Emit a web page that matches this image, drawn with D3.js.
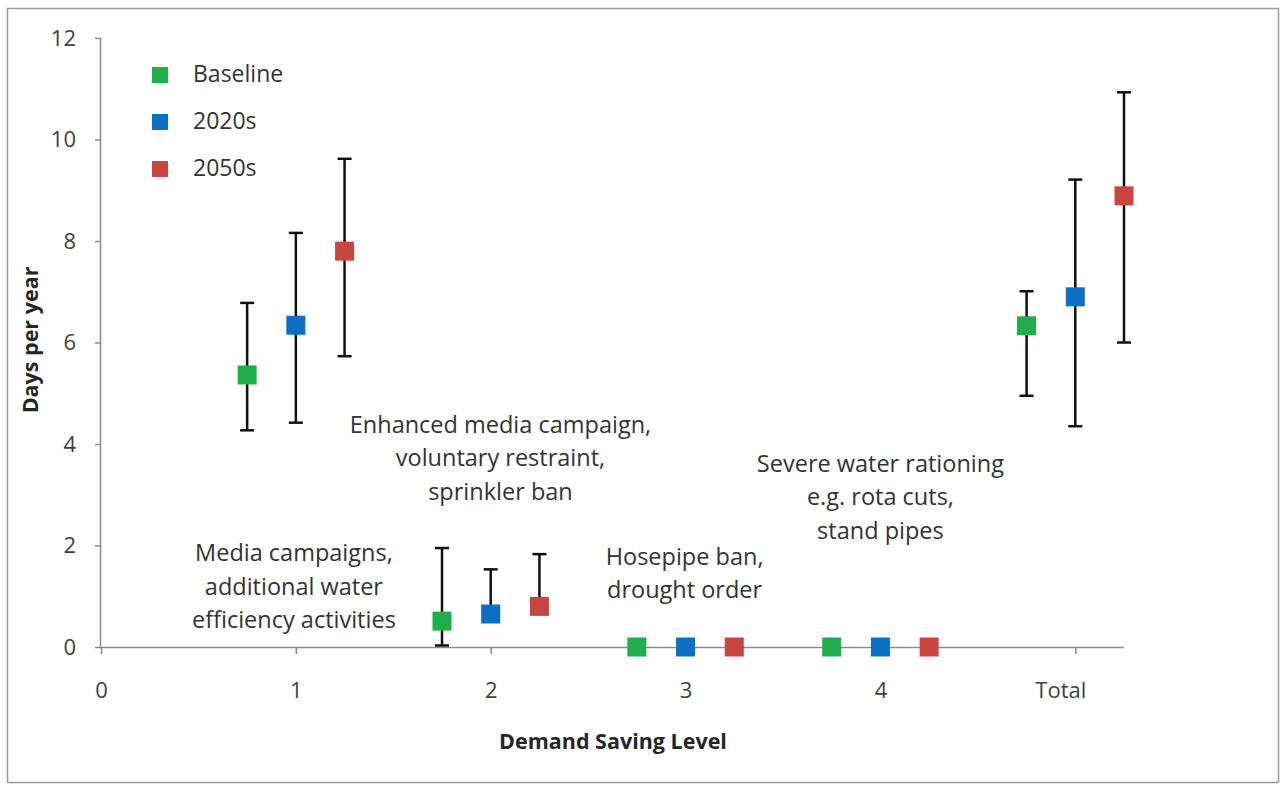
<!DOCTYPE html>
<html><head><meta charset="utf-8">
<script src="https://cdn.jsdelivr.net/npm/d3@7"></script>
<style>body{margin:0;background:#fff;} svg{display:block;} text{font-family:"Open Sans",sans-serif;}</style>
</head><body>
<svg id="chart" width="1282" height="785"></svg>
<script>
// ---- data ----
const seriesNames = ["Baseline", "2020s", "2050s"];
const seriesColors = ["#1fae4b", "#0b6fc4", "#c8463f"];
const levels = [1, 2, 3, 4, 5];            // 5 = "Total"
const xTickValues = [0, 1, 2, 3, 4, 5];
const xTickLabels = ["0", "1", "2", "3", "4", "Total"];
const yTickValues = [0, 2, 4, 6, 8, 10, 12];
const offsets = [-0.25, 0, 0.25];
const baselineVals = [5.36, 0.51, 0, 0, 6.33];
const baselineHigh = [6.78, 1.95, 0, 0, 7.01];
const baselineLow  = [4.27, 0.03, 0, 0, 4.95];
const s2020Vals = [6.34, 0.65, 0, 0, 6.90];
const s2020High = [8.16, 1.53, 0, 0, 9.21];
const s2020Low  = [4.42, 0.60, 0, 0, 4.35];
const s2050Vals = [7.80, 0.80, 0, 0, 8.89];
const s2050High = [9.62, 1.83, 0, 0, 10.93];
const s2050Low  = [5.73, 0.75, 0, 0, 6.00];
const annotations = [
  {x: 0.99, y: 1.69, lines: ["Media campaigns,", "additional water", "efficiency activities"]},
  {x: 2.05, y: 4.22, lines: ["Enhanced media campaign,", "voluntary restraint,", "sprinkler ban"]},
  {x: 2.995, y: 1.62, lines: ["Hosepipe ban,", "drought order"]},
  {x: 4.0, y: 3.45, lines: ["Severe water rationing", "e.g. rota cuts,", "stand pipes"]}
];

const allVals = [baselineVals, s2020Vals, s2050Vals];
const allHigh = [baselineHigh, s2020High, s2050High];
const allLow = [baselineLow, s2020Low, s2050Low];

const svg = d3.select("#chart");
// outer frame
svg.append("rect").attr("x", 7.5).attr("y", 8.5).attr("width", 1271).attr("height", 774)
  .attr("fill", "#fff").attr("stroke", "#9a9a9a").attr("stroke-width", 1.5);

const x = d3.scaleLinear().domain([0, 5.25]).range([101, 1124]);
const y = d3.scaleLinear().domain([0, 12]).range([647, 38]);
const axisColor = "#8a8a8a", textColor = "#404040";

// y axis
const yAxis = svg.append("g").attr("transform", `translate(${x(0)},0)`)
  .call(d3.axisLeft(y).tickValues(yTickValues).tickSize(6).tickPadding(19).tickFormat(d3.format("d")));
// x axis
const xAxis = svg.append("g").attr("transform", `translate(0,${y(0)})`)
  .call(d3.axisBottom(x).tickValues(xTickValues).tickSize(7).tickPadding(28).tickFormat((d, i) => xTickLabels[i]));
[yAxis, xAxis].forEach(g => {
  g.select(".domain").attr("stroke", axisColor).attr("stroke-width", 1.5);
  g.selectAll(".tick line").attr("stroke", axisColor).attr("stroke-width", 1.5);
  g.selectAll(".tick text").attr("fill", textColor).style("font-size", "22px").style("font-family", "Open Sans");
});
xAxis.select(".domain").attr("d", `M${x(0)},0.5H${x(5.25)}`);
yAxis.select(".domain").attr("d", `M-0.5,${y(12)}V${y(0)}`);
xAxis.selectAll(".tick text").filter(d => d === 5).attr("dx", -15);

// axis titles
svg.append("text").attr("x", 613).attr("y", 749).attr("text-anchor", "middle")
  .attr("fill", "#262626").style("font-weight", "bold").style("font-size", "21.5px").text("Demand Saving Level");
svg.append("text").attr("transform", `translate(38,${y(6.05)}) rotate(-90)`).attr("text-anchor", "middle")
  .attr("fill", "#262626").style("font-weight", "bold").style("font-size", "21.5px").text("Days per year");

// annotations
annotations.forEach(a => {
  const t = svg.append("text").attr("text-anchor", "middle").attr("fill", "#333").style("font-size", "23.5px");
  a.lines.forEach((l, i) => {
    t.append("tspan").attr("x", x(a.x)).attr("y", y(a.y) + i * 33.5).text(l);
  });
});

// error bars and markers
const capW = 7, ms = 19;
seriesNames.forEach((name, s) => {
  const g = svg.append("g");
  levels.forEach((lv, i) => {
    const cx = x(lv + offsets[s]);
    const hi = allHigh[s][i], lo = allLow[s][i];
    if (hi !== lo) {
      g.append("line").attr("x1", cx).attr("x2", cx).attr("y1", y(hi)).attr("y2", y(lo))
        .attr("stroke", "#111").attr("stroke-width", 2.5);
      [hi, lo].forEach(v => {
        g.append("line").attr("x1", cx - capW).attr("x2", cx + capW).attr("y1", y(v)).attr("y2", y(v))
          .attr("stroke", "#111").attr("stroke-width", 2.5);
      });
    }
  });
  levels.forEach((lv, i) => {
    const cx = x(lv + offsets[s]), cy = y(allVals[s][i]);
    g.append("rect").attr("x", cx - ms / 2).attr("y", cy - ms / 2).attr("width", ms).attr("height", ms)
      .attr("fill", seriesColors[s]);
  });
});

// legend
const legend = svg.append("g");
seriesNames.forEach((name, s) => {
  const cy = 75 + s * 47;
  legend.append("rect").attr("x", 152).attr("y", cy - 8).attr("width", 16).attr("height", 16).attr("fill", seriesColors[s]);
  legend.append("text").attr("x", 193).attr("y", cy + 7).attr("fill", "#333").style("font-size", "23px").text(name);
});
</script>
</body></html>
